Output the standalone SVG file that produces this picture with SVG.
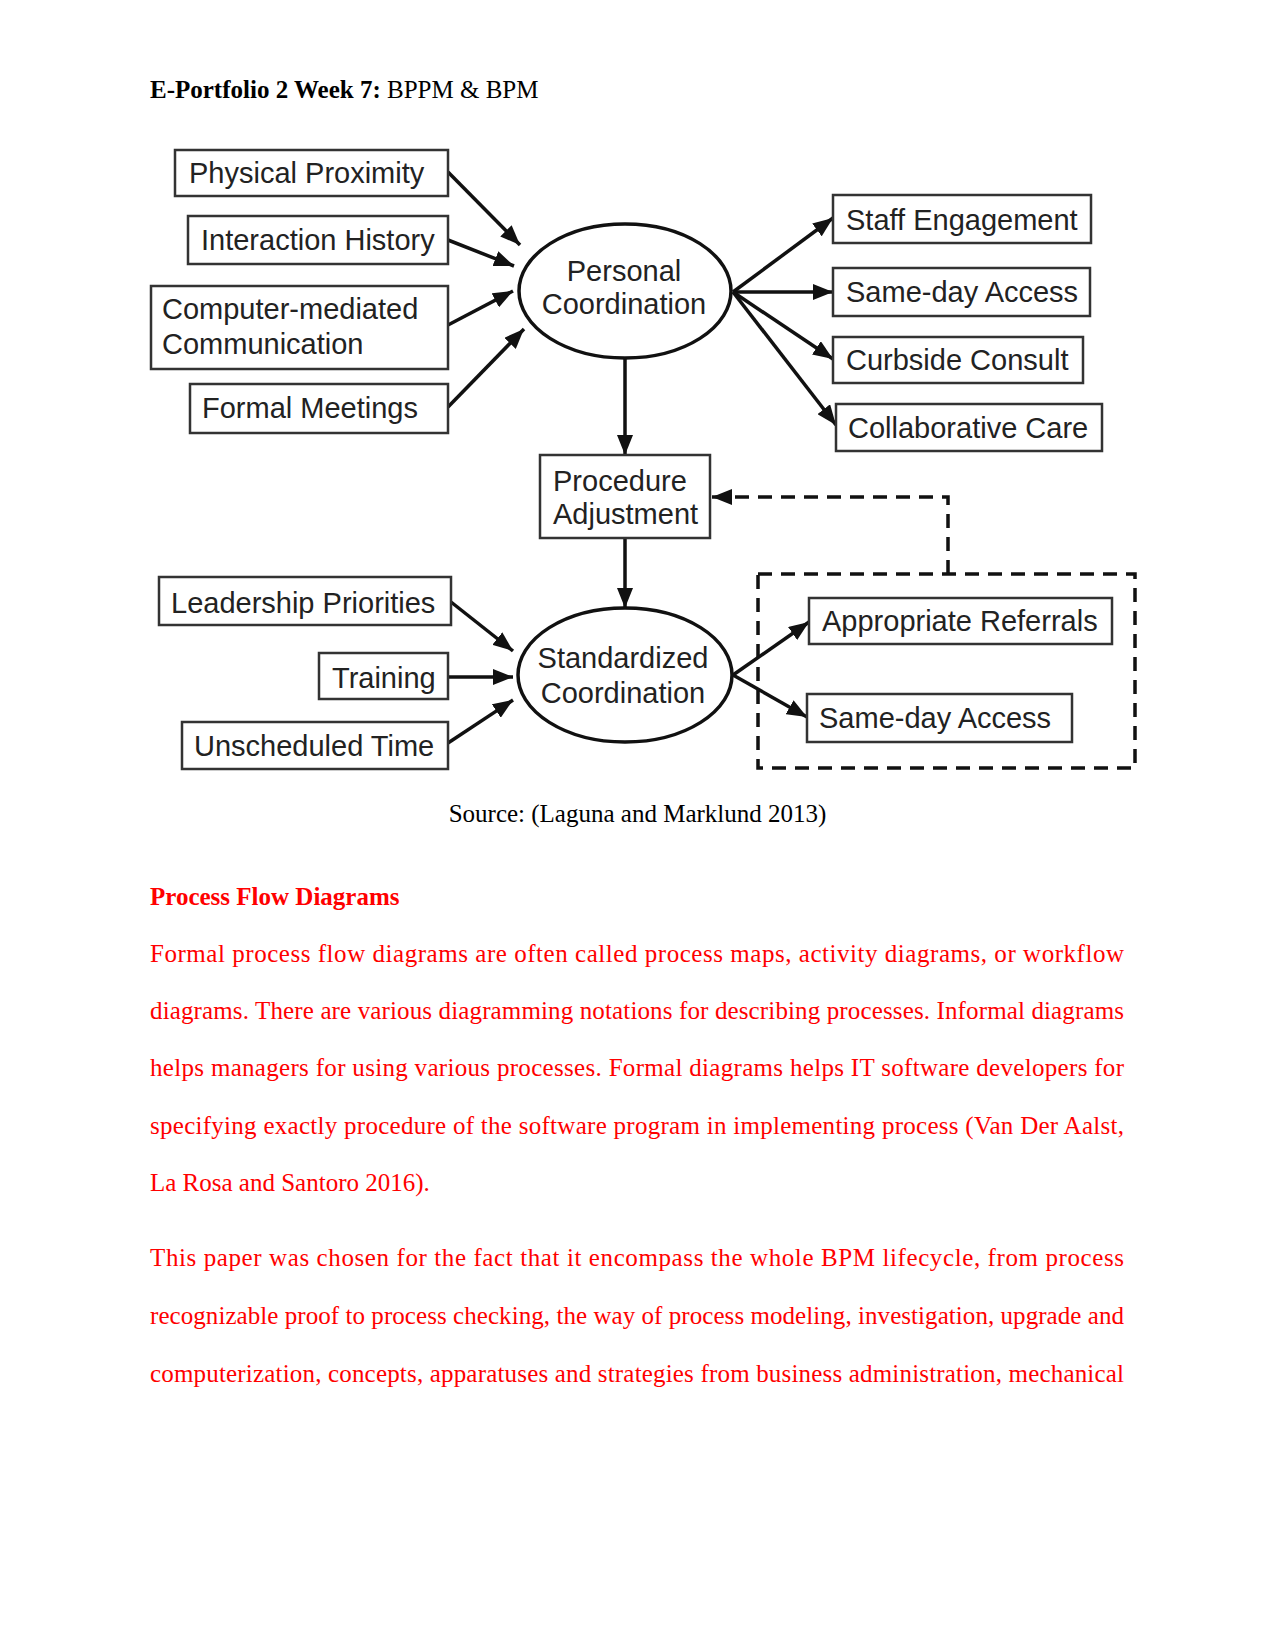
<svg xmlns="http://www.w3.org/2000/svg" width="1275" height="1651" viewBox="0 0 1275 1651">
<style>
.doc{font-family:"Liberation Serif","Times New Roman",serif;font-size:25px;fill:#000}
.red{fill:#f00}
.b{font-weight:bold}
.box{fill:#fff;stroke:#333;stroke-width:2.5}
.ell{fill:#fff;stroke:#111;stroke-width:3.5}
.lbl{font-family:"Liberation Sans",Arial,sans-serif;font-size:29px;fill:#222}
.mid{text-anchor:middle}
.arr{stroke:#111;stroke-width:3.5;fill:none;marker-end:url(#ah)}
.dash{stroke:#111;stroke-width:3.5;fill:none;stroke-dasharray:14 9}
</style>
<defs>
<marker id="ah" markerUnits="userSpaceOnUse" markerWidth="20" markerHeight="16" refX="20" refY="8" orient="auto">
<path d="M0,0 L20,8 L0,16 z" fill="#111"/>
</marker>
</defs>
<rect width="1275" height="1651" fill="#fff"/>
<text class="doc" x="150" y="98"><tspan class="b">E-Portfolio 2 Week 7:</tspan> BPPM &amp; BPM</text>

<g id="connectors">
<line class="arr" x1="448" y1="172" x2="520" y2="245"/>
<line class="arr" x1="448" y1="240" x2="514" y2="266"/>
<line class="arr" x1="448" y1="325" x2="513" y2="291"/>
<line class="arr" x1="448" y1="407" x2="524" y2="329"/>
<line class="arr" x1="733" y1="292" x2="833" y2="218"/>
<line class="arr" x1="733" y1="292" x2="833" y2="292"/>
<line class="arr" x1="733" y1="292" x2="833" y2="359"/>
<line class="arr" x1="733" y1="292" x2="836" y2="425"/>
<line class="arr" x1="625" y1="358" x2="625" y2="455"/>
<line class="arr" x1="625" y1="538" x2="625" y2="608"/>
<line class="arr" x1="451" y1="602" x2="513" y2="651"/>
<line class="arr" x1="448" y1="677" x2="513" y2="677"/>
<line class="arr" x1="448" y1="743" x2="513" y2="700"/>
<line class="arr" x1="733" y1="675" x2="809" y2="622"/>
<line class="arr" x1="733" y1="675" x2="807" y2="717"/>
<path class="dash" d="M948,574 L948,497 L728,497"/>
<line stroke="#111" stroke-width="3.5" x1="730" y1="497" x2="712" y2="497" marker-end="url(#ah)"/>
<rect class="dash" x="758" y="574" width="377" height="194"/>
</g>

<g id="n-physical"><rect class="box" x="175" y="150" width="273" height="46"/><text class="lbl" x="189" y="183">Physical Proximity</text></g>
<g id="n-interaction"><rect class="box" x="188" y="216" width="260" height="48"/><text class="lbl" x="201" y="250">Interaction History</text></g>
<g id="n-computer"><rect class="box" x="151" y="286" width="297" height="83"/><text class="lbl" x="162" y="319">Computer-mediated</text><text class="lbl" x="162" y="354">Communication</text></g>
<g id="n-formal"><rect class="box" x="190" y="384" width="258" height="49"/><text class="lbl" x="202" y="418">Formal Meetings</text></g>

<g id="n-personal"><ellipse class="ell" cx="625" cy="291" rx="106" ry="67"/><text class="lbl mid" x="624" y="281">Personal</text><text class="lbl mid" x="624" y="314">Coordination</text></g>

<g id="n-staff"><rect class="box" x="833" y="195" width="258" height="48"/><text class="lbl" x="846" y="230">Staff Engagement</text></g>
<g id="n-sameday1"><rect class="box" x="833" y="268" width="257" height="48"/><text class="lbl" x="846" y="302">Same-day Access</text></g>
<g id="n-curbside"><rect class="box" x="833" y="337" width="250" height="46"/><text class="lbl" x="846" y="370">Curbside Consult</text></g>
<g id="n-collab"><rect class="box" x="836" y="404" width="266" height="47"/><text class="lbl" x="848" y="438">Collaborative Care</text></g>

<g id="n-procedure"><rect class="box" x="540" y="455" width="170" height="83"/><text class="lbl" x="553" y="491">Procedure</text><text class="lbl" x="553" y="524">Adjustment</text></g>

<g id="n-leadership"><rect class="box" x="159" y="577" width="292" height="48"/><text class="lbl" x="171" y="613">Leadership Priorities</text></g>
<g id="n-training"><rect class="box" x="319" y="653" width="129" height="46"/><text class="lbl" x="332" y="688">Training</text></g>
<g id="n-unscheduled"><rect class="box" x="182" y="722" width="266" height="47"/><text class="lbl" x="194" y="756">Unscheduled Time</text></g>

<g id="n-standardized"><ellipse class="ell" cx="625" cy="675" rx="107" ry="67"/><text class="lbl mid" x="623" y="668">Standardized</text><text class="lbl mid" x="623" y="703">Coordination</text></g>

<g id="n-referrals"><rect class="box" x="809" y="598" width="303" height="46"/><text class="lbl" x="822" y="631">Appropriate Referrals</text></g>
<g id="n-sameday2"><rect class="box" x="807" y="694" width="265" height="48"/><text class="lbl" x="819" y="728">Same-day Access</text></g>

<text class="doc mid" x="637.5" y="822">Source: (Laguna and Marklund 2013)</text>

<text class="doc red b" x="150" y="905">Process Flow Diagrams</text>
<text class="doc red" x="150" y="962" textLength="974" lengthAdjust="spacing">Formal process flow diagrams are often called process maps, activity diagrams, or workflow</text>
<text class="doc red" x="150" y="1019" textLength="974" lengthAdjust="spacing">diagrams. There are various diagramming notations for describing processes. Informal diagrams</text>
<text class="doc red" x="150" y="1076" textLength="974" lengthAdjust="spacing">helps managers for using various processes. Formal diagrams helps IT software developers for</text>
<text class="doc red" x="150" y="1134" textLength="974" lengthAdjust="spacing">specifying exactly procedure of the software program in implementing process (Van Der Aalst,</text>
<text class="doc red" x="150" y="1191">La Rosa and Santoro 2016).</text>
<text class="doc red" x="150" y="1266" textLength="974" lengthAdjust="spacing">This paper was chosen for the fact that it encompass the whole BPM lifecycle, from process</text>
<text class="doc red" x="150" y="1324" textLength="974" lengthAdjust="spacing">recognizable proof to process checking, the way of process modeling, investigation, upgrade and</text>
<text class="doc red" x="150" y="1382" textLength="974" lengthAdjust="spacing">computerization, concepts, apparatuses and strategies from business administration, mechanical</text>
</svg>
